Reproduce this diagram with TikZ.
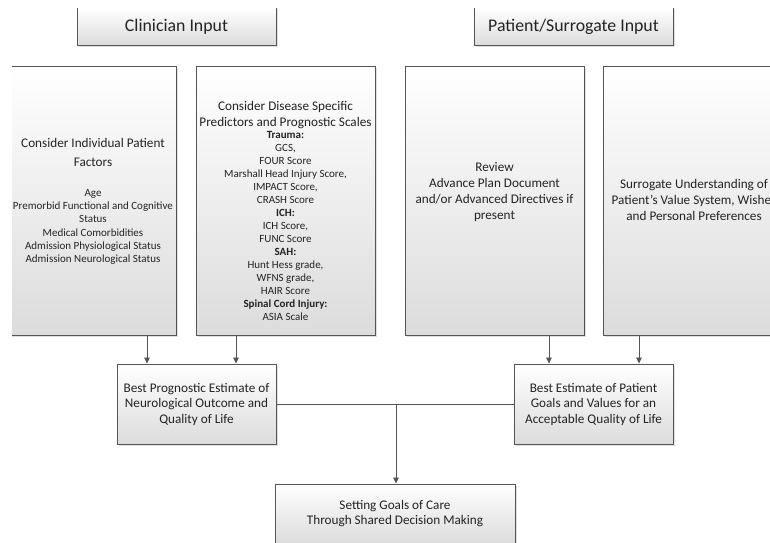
\documentclass[tikz,border=0pt]{standalone}
\usepackage{fontspec}
\setmainfont{Carlito}
\usetikzlibrary{arrows.meta,shadows}

\definecolor{boxline}{RGB}{85,85,85}
\definecolor{boxgray}{RGB}{220,220,220}
\definecolor{inktext}{RGB}{35,35,35}

\tikzset{every picture/.style={line width=0.75pt}}
\tikzset{
	box/.style={draw=boxline, line width=0.9pt, top color=white, bottom color=boxgray,
		drop shadow={shadow xshift=1.5pt, shadow yshift=-1.5pt, opacity=0.25},
		inner sep=0pt, text=inktext, align=center},
	titlebox/.style={box, minimum width=199pt, minimum height=38pt, font=\fontsize{17.8}{20}\selectfont},
	tallbox/.style={box, minimum width=179pt, minimum height=269pt},
	smallbox/.style={box, minimum width=159pt, minimum height=80pt, font=\fontsize{13.2}{15.5}\selectfont},
	txt/.style={text=inktext, align=center, inner sep=0pt, anchor=base},
	bigtxt/.style={txt, font=\fontsize{13.2}{16}\selectfont},
	smalltxt/.style={txt, font=\fontsize{11}{13.25}\selectfont},
	wire/.style={draw=boxline, line width=0.8pt},
	link/.style={wire, -{Triangle[length=6pt, width=5.5pt]}}
}

\begin{document}
\begin{tikzpicture}[x=1pt,y=1pt,yscale=-1,xscale=1]
	\useasboundingbox (0,0) rectangle (770,542);
	\begin{scope}
	\clip (12,8) rectangle (770,542);

	%Shape: Rectangle [Clinician Input]
	\node[titlebox] (clin) at (176.5,26.5) {Clinician Input};
	%Shape: Rectangle [Patient/Surrogate Input]
	\node[titlebox] (pat) at (573.5,26.5) {Patient/Surrogate Input};

	%Shape: Rectangle [tall boxes]
	\node[tallbox] (factors) at (86.5,200.5) {};
	\node[tallbox] (scales) at (285.5,200.5) {};
	\node[tallbox] (review) at (494.5,200.5) {};
	\node[tallbox] (wishes) at (692.5,200.5) {};

	% Text Node (anchored at the baseline of the last line)
	\node[bigtxt, font=\fontsize{13.2}{19}\selectfont] (factorsA) at (93,166.5) {Consider Individual Patient\\Factors};
	% Text Node
	\node[smalltxt] (factorsB) at (93,262.7) {Age\\Premorbid Functional and Cognitive\\Status\\Medical Comorbidities\\Admission Physiological Status\\Admission Neurological Status};
	% Text Node
	\node[bigtxt] (scalesA) at (285.5,126) {Consider Disease Specific\\Predictors and Prognostic Scales};
	% Text Node
	\node[smalltxt, font=\fontsize{11}{13}\selectfont] (scalesB) at (285.5,320.7) {\textbf{Trauma:}\\GCS,\\FOUR Score\\Marshall Head Injury Score,\\IMPACT Score,\\CRASH Score\\\textbf{ICH:}\\ICH Score,\\FUNC Score\\\textbf{SAH:}\\Hunt Hess grade,\\WFNS grade,\\HAIR Score\\\textbf{Spinal Cord Injury:}\\ASIA Scale};
	% Text Node
	\node[bigtxt] (reviewA) at (494.5,219.3) {Review\\Advance Plan Document\\and/or Advanced Directives if\\present};
	% Text Node
	\node[bigtxt] (wishesA) at (694,220) {Surrogate Understanding of\\Patient’s Value System, Wishes\\and Personal Preferences};

	%Shape: Rectangle [estimates]
	\node[smallbox] (prog) at (196.5,404) {Best Prognostic Estimate of\\Neurological Outcome and\\Quality of Life};
	\node[smallbox] (goals) at (593.5,404) {Best Estimate of Patient\\Goals and Values for an\\Acceptable Quality of Life};
	%Shape: Rectangle [goals of care]
	\node[smallbox, minimum width=240pt, minimum height=59pt] (care) at (395,513.5) {Setting Goals of Care\\Through Shared Decision Making};

	% arrow columns
	\coordinate (colA) at (147,0);
	\coordinate (colB) at (236,0);
	\coordinate (colC) at (549,0);
	\coordinate (colD) at (639,0);
	\coordinate (colM) at (396,0);

	%Straight Lines
	\draw[link] (factors.south -| colA) -- (prog.north -| colA);
	\draw[link] (scales.south -| colB) -- (prog.north -| colB);
	\draw[link] (review.south -| colC) -- (goals.north -| colC);
	\draw[link] (wishes.south -| colD) -- (goals.north -| colD);
	\draw[wire] (prog.east) -- (goals.west);
	\draw[link] (prog.east -| colM) -- (care.north -| colM);
	\end{scope}
\end{tikzpicture}
\end{document}
